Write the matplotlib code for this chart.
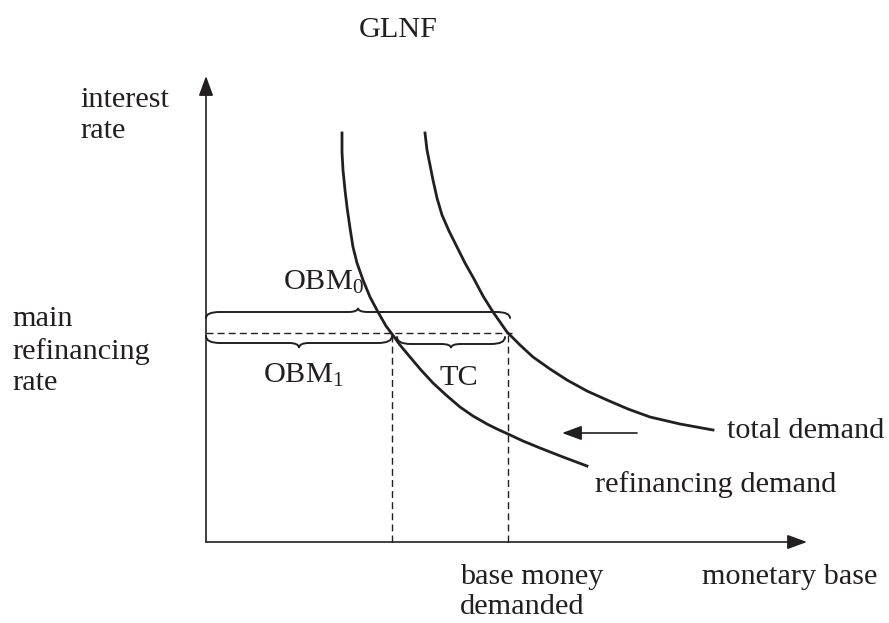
from __future__ import annotations

import matplotlib

matplotlib.use("Agg")
import matplotlib.pyplot as plt
from matplotlib.axes import Axes
from matplotlib.patches import PathPatch
from matplotlib.path import Path

INK = "#231f20"

# curves (x = monetary base, y = interest rate)
refi_x = [136, 136, 137, 139, 141, 144, 147, 151, 157, 164, 172, 180, 186,
          194, 204, 215, 227, 240, 254, 267, 281, 291, 302, 317, 334, 357, 381]
refi_y = [409, 390, 372, 352, 335, 314, 295, 279, 262, 245, 230, 216, 208,
          197, 185, 172, 159, 147, 135, 126, 118, 113, 108, 101, 94, 85, 76]
total_x = [219, 221, 224, 227, 231, 236, 243, 251, 259, 268, 277, 287, 301,
           314, 327, 344, 361, 381, 401, 422, 444, 474, 507]
total_y = [409, 392, 377, 362, 344, 327, 311, 295, 279, 263, 246, 230, 210,
           197, 185, 173, 162, 151, 142, 133, 125, 118, 112]

main_rate = 209
refi_quantity = 186
total_quantity = 302

STYLE = {
    "font.family": ["Liberation Serif", "DejaVu Serif"],
    "font.size": 21.8,
    "mathtext.fontset": "custom",
    "mathtext.rm": "Liberation Serif",
    "mathtext.it": "Liberation Serif:italic",
    "mathtext.default": "rm",
    "text.color": INK,
}


def draw_brace(ax: Axes, x0: float, x1: float, y_end: float, y_body: float,
               y_tip: float, r_end: float = 14, r_tip: float = 10) -> None:
    xm = (x0 + x1) / 2
    verts = [
        (x0, y_end), (x0, y_body), (x0 + r_end, y_body),
        (xm - r_tip, y_body),
        (xm, y_body), (xm, y_tip),
        (xm, y_body), (xm + r_tip, y_body),
        (x1 - r_end, y_body),
        (x1, y_body), (x1, y_end),
    ]
    codes = [
        Path.MOVETO, Path.CURVE3, Path.CURVE3,
        Path.LINETO,
        Path.CURVE3, Path.CURVE3,
        Path.CURVE3, Path.CURVE3,
        Path.LINETO,
        Path.CURVE3, Path.CURVE3,
    ]
    ax.add_patch(PathPatch(Path(verts, codes), facecolor="none",
                           edgecolor=INK, lw=1.4, capstyle="round"))


def arrow(ax: Axes, start, end, lw: float = 1.2) -> None:
    ax.annotate(
        "", xy=end, xytext=start,
        arrowprops=dict(arrowstyle="-|>,head_length=0.6,head_width=0.22",
                        mutation_scale=20, color=INK, lw=lw,
                        shrinkA=0, shrinkB=0),
    )


def draw(fig) -> None:
    ax = fig.add_axes([0, 0, 1, 1])
    ax.set_xlim(-206, 683)
    ax.set_ylim(-81, 542)
    ax.axis("off")

    # axes
    arrow(ax, (0, 0), (0, 466))
    arrow(ax, (0, 0), (601, 0))

    # demand curves
    ax.plot(refi_x, refi_y, color=INK, lw=2.0, solid_joinstyle="round")
    ax.plot(total_x, total_y, color=INK, lw=2.0, solid_joinstyle="round")

    # main refinancing rate and quantities
    dash = dict(color=INK, lw=1.0, dashes=(5, 3))
    ax.plot([0, total_quantity + 4], [main_rate, main_rate], **dash)
    ax.plot([refi_quantity, refi_quantity], [0, main_rate], **dash)
    ax.plot([total_quantity, total_quantity], [0, main_rate], **dash)

    # braces
    draw_brace(ax, 0, total_quantity + 2, 224, 230, 234)
    draw_brace(ax, 0, refi_quantity, 206, 199, 194)
    draw_brace(ax, refi_quantity + 5, total_quantity - 3, 205, 198, 194)

    # shift arrow
    arrow(ax, (431, 109), (356, 109), lw=1.2)

    ax.text(192, 505, "GLNF", ha="center", va="baseline")
    ax.text(-126, 404, "interest\nrate", ha="left", va="baseline",
            linespacing=1.23)
    ax.text(-194, 152, "main\nrefinancing\nrate", ha="left",
            va="baseline", linespacing=1.26)
    ax.text(77, 252, r"OBM$_0$", ha="left", va="baseline")
    ax.text(57, 159, r"OBM$_1$", ha="left", va="baseline")
    ax.text(234, 157, "TC", ha="left", va="baseline")
    ax.text(521, 104, "total demand", ha="left", va="baseline")
    ax.text(389, 50, "refinancing demand", ha="left", va="baseline")
    ax.text(254, -72, "base money\ndemanded", ha="left", va="baseline",
            linespacing=1.18)
    ax.text(496, -42, "monetary base", ha="left", va="baseline")


def main() -> None:
    with plt.rc_context(STYLE):
        fig = plt.figure(figsize=(8.89, 6.23), dpi=100)
        draw(fig)
        fig.savefig("out.png", dpi=100)
    plt.close(fig)


if __name__ == "__main__":
    main()
